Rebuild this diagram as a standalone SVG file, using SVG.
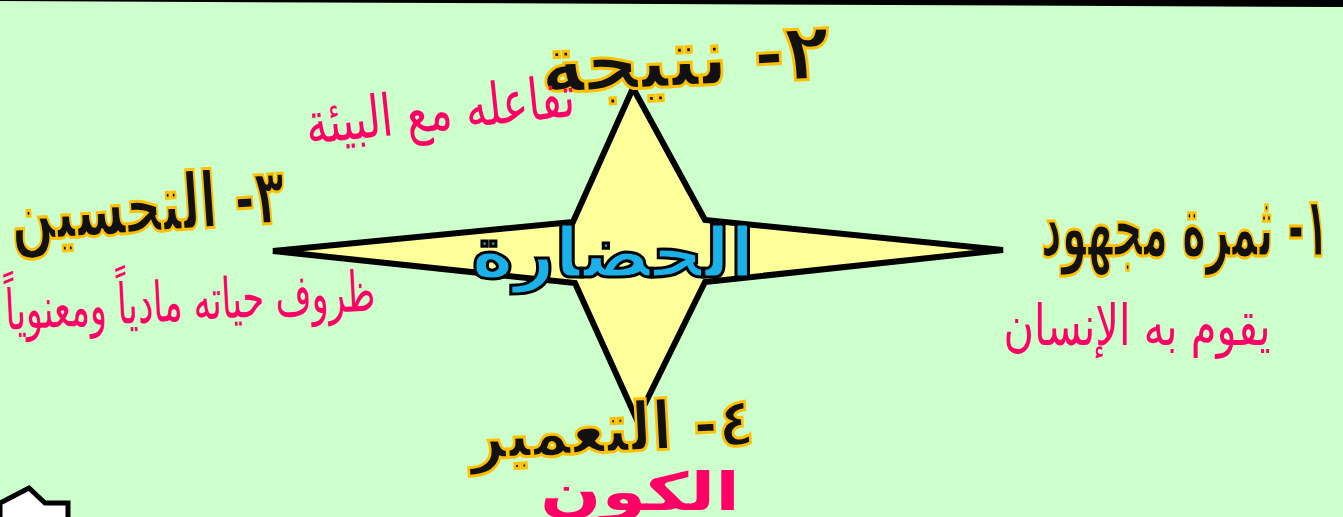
<svg xmlns="http://www.w3.org/2000/svg" width="1343" height="517" viewBox="0 0 1343 517">
<style>
.title{font-family:"DejaVu Sans",sans-serif;font-weight:bold;fill:#111;stroke:#FFC000;stroke-width:3;}
.sub{font-family:"DejaVu Sans",sans-serif;fill:#FF0066;}
.center{font-family:"DejaVu Sans",sans-serif;font-weight:bold;fill:#1AB0E8;stroke:#000;stroke-width:3;}
</style>
<rect width="1343" height="517" fill="#CCFFCC"/>
<polygon points="0,0 1343,0 1343,7 0,1" fill="#000"/>
<g id="star">
<polygon points="633,88 705,220 1003,250 705,282 637,420 575,283 273,251 573,222" fill="#FFFF99" stroke="#000" stroke-width="6" stroke-linejoin="miter"/>
</g>
<g id="center-node"><text class="center" x="613" y="277" font-size="70" text-anchor="middle" direction="rtl" textLength="283" lengthAdjust="spacingAndGlyphs">الحضارة</text></g>
<g id="node1">
<text class="title" x="1185" y="256" font-size="84" text-anchor="middle" direction="rtl" textLength="288" lengthAdjust="spacingAndGlyphs">١- ثمرة مجهود</text>
<text class="sub" x="1137" y="345" font-size="56" text-anchor="middle" direction="rtl" textLength="267" lengthAdjust="spacingAndGlyphs">يقوم به الإنسان</text>
</g>
<g id="node2">
<text class="title" x="685" y="86" font-size="80" text-anchor="middle" direction="rtl" textLength="290" lengthAdjust="spacingAndGlyphs" transform="rotate(-3 685 60)">٢- نتيجة</text>
<text class="sub" x="440" y="130" font-size="58" text-anchor="middle" direction="rtl" textLength="270" lengthAdjust="spacingAndGlyphs" transform="rotate(-6 440 110)">تفاعله مع البيئة</text>
</g>
<g id="node3">
<text class="title" x="148" y="232" font-size="78" text-anchor="middle" direction="rtl" textLength="275" lengthAdjust="spacingAndGlyphs" transform="rotate(-4 148 210)">٣- التحسين</text>
<text class="sub" x="190" y="320" font-size="56" text-anchor="middle" direction="rtl" textLength="370" lengthAdjust="spacingAndGlyphs" transform="rotate(-3 190 300)">ظروف حياته مادياً ومعنوياً</text>
</g>
<g id="node4">
<text class="title" x="612" y="452" font-size="68" text-anchor="middle" direction="rtl" textLength="285" lengthAdjust="spacingAndGlyphs" transform="rotate(-3 612 430)">٤- التعمير</text>
<text class="sub" x="640" y="510" font-size="52" font-weight="bold" text-anchor="middle" direction="rtl" textLength="200" lengthAdjust="spacingAndGlyphs">الكون</text>
</g>
<g id="corner-shape">
<polygon points="0,503 29,488 45,503 68,503 68,520 0,520" fill="#FFF" stroke="#000" stroke-width="5"/>
</g>
</svg>
